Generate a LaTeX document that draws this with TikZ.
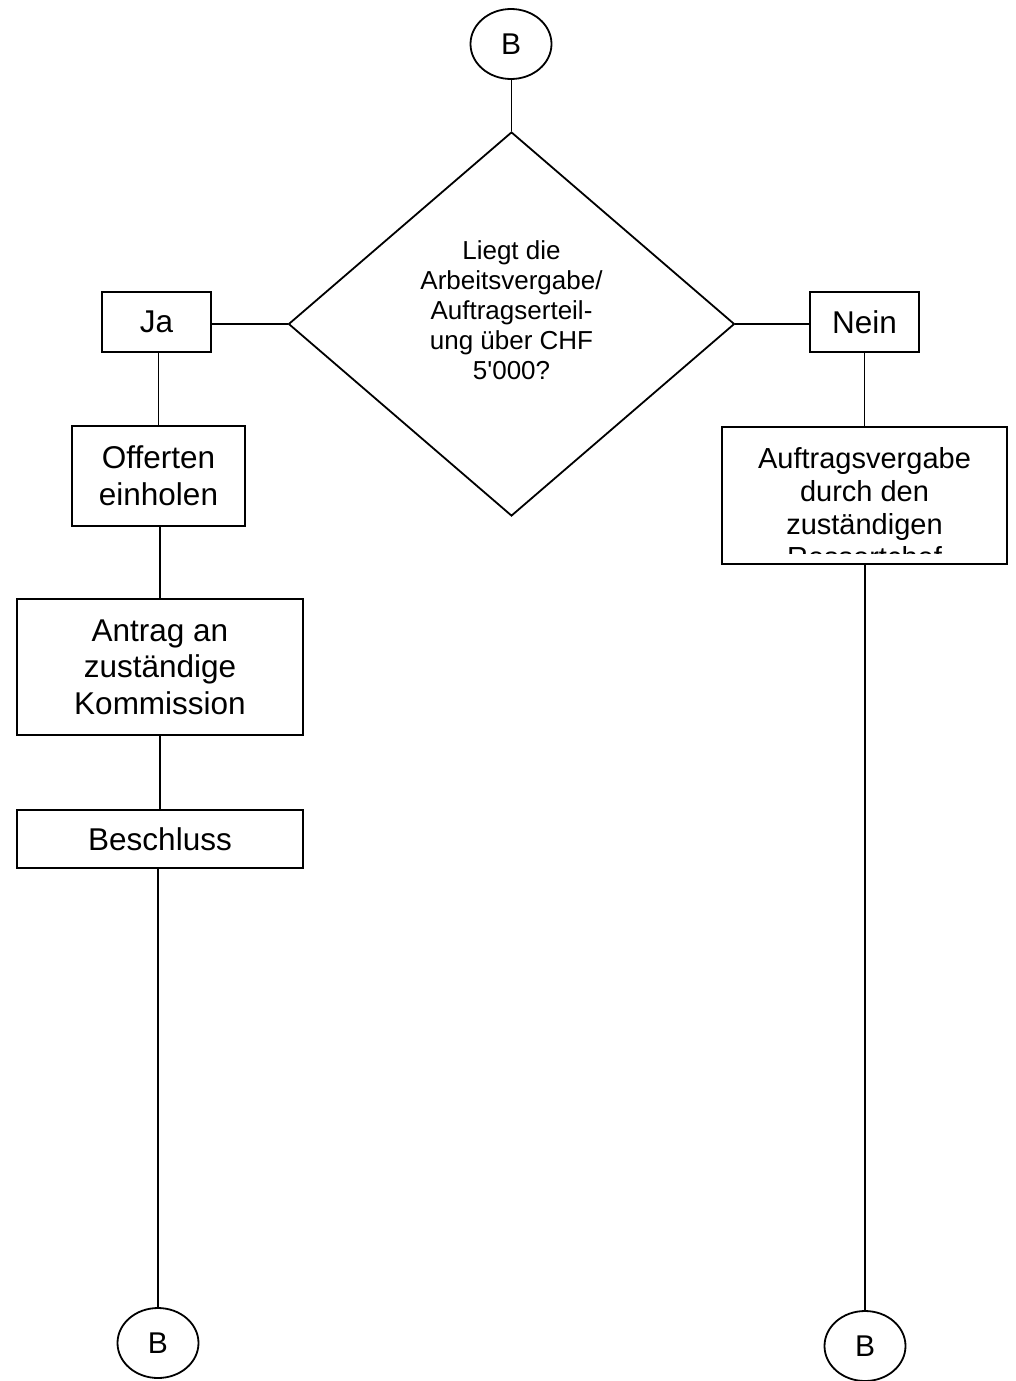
\documentclass[tikz,border=0pt]{standalone}
\usepackage{fontspec}
\setmainfont{Liberation Sans}[Ligatures=TeXOff]
\usetikzlibrary{shapes.geometric}
\begin{document}
\begin{tikzpicture}[x=1pt,y=-1pt,line width=1.8pt,
  conn/.style={ellipse,draw,minimum width=81pt,minimum height=70pt,inner sep=0pt,font=\fontsize{30}{34}\selectfont},
  box/.style={draw,rectangle,inner sep=0pt,align=center,font=\fontsize{31.5}{36.5}\selectfont},
  decision/.style={diamond,draw,inner sep=0pt,minimum width=446pt,minimum height=384pt},
  lbl/.style={inner sep=0pt,align=center}]
\useasboundingbox (0,0) rectangle (1016,1381);
\fill[white] (0,0) rectangle (1016,1381);

% nodes
\node[conn] (tb) at (511,44) {B};
\node[decision] (d) at (511.5,324) {};
\node[lbl,anchor=north,font=\fontsize{26}{30}\selectfont] (dq) at (511.5,240)
  {Liegt die\\Arbeitsvergabe/\\Auftragserteil-\\ung über CHF\\5'000?};
\node[box,minimum width=109pt,minimum height=60pt] (ja) at (156.5,322) {Ja};
\node[box,minimum width=109pt,minimum height=60pt] (nein) at (864.5,322) {Nein};
\node[box,minimum width=173pt,minimum height=100pt] (off) at (158.5,476) {Offerten\\einholen};
\node[box,minimum width=286pt,minimum height=136pt] (antrag) at (160,667) {Antrag an\\zuständige\\Kommission};
\node[box,minimum width=286pt,minimum height=58pt] (besch) at (160,839) {Beschluss};
\node[box,minimum width=285pt,minimum height=137pt] (auf) at (864.5,495.5) {};
\begin{scope}
  \clip (722,427) rectangle (1007,553);
  \node[lbl,anchor=north,font=\fontsize{29}{33}\selectfont] (auftext) at (864.5,447)
    {Auftragsvergabe\\durch den\\zuständigen\\Ressortchef};
\end{scope}
\node[conn] (bl) at (158,1343) {B};
\node[conn] (br) at (865,1346) {B};

% connectors
\draw (d.north) -- (d.north |- tb.south);
\draw (ja.east |- d.west) -- (d.west);
\draw (d.east) -- (d.east -| nein.west);
\draw (off.north) -- (off.north |- ja.south);
\draw (antrag.north) -- (antrag.north |- off.south);
\draw (antrag.south) -- (besch.north);
\draw (bl.north) -- (bl.north |- besch.south);
\draw (auf.north) -- (auf.north |- nein.south);
\draw (br.north) -- (br.north |- auf.south);
\end{tikzpicture}
\end{document}
